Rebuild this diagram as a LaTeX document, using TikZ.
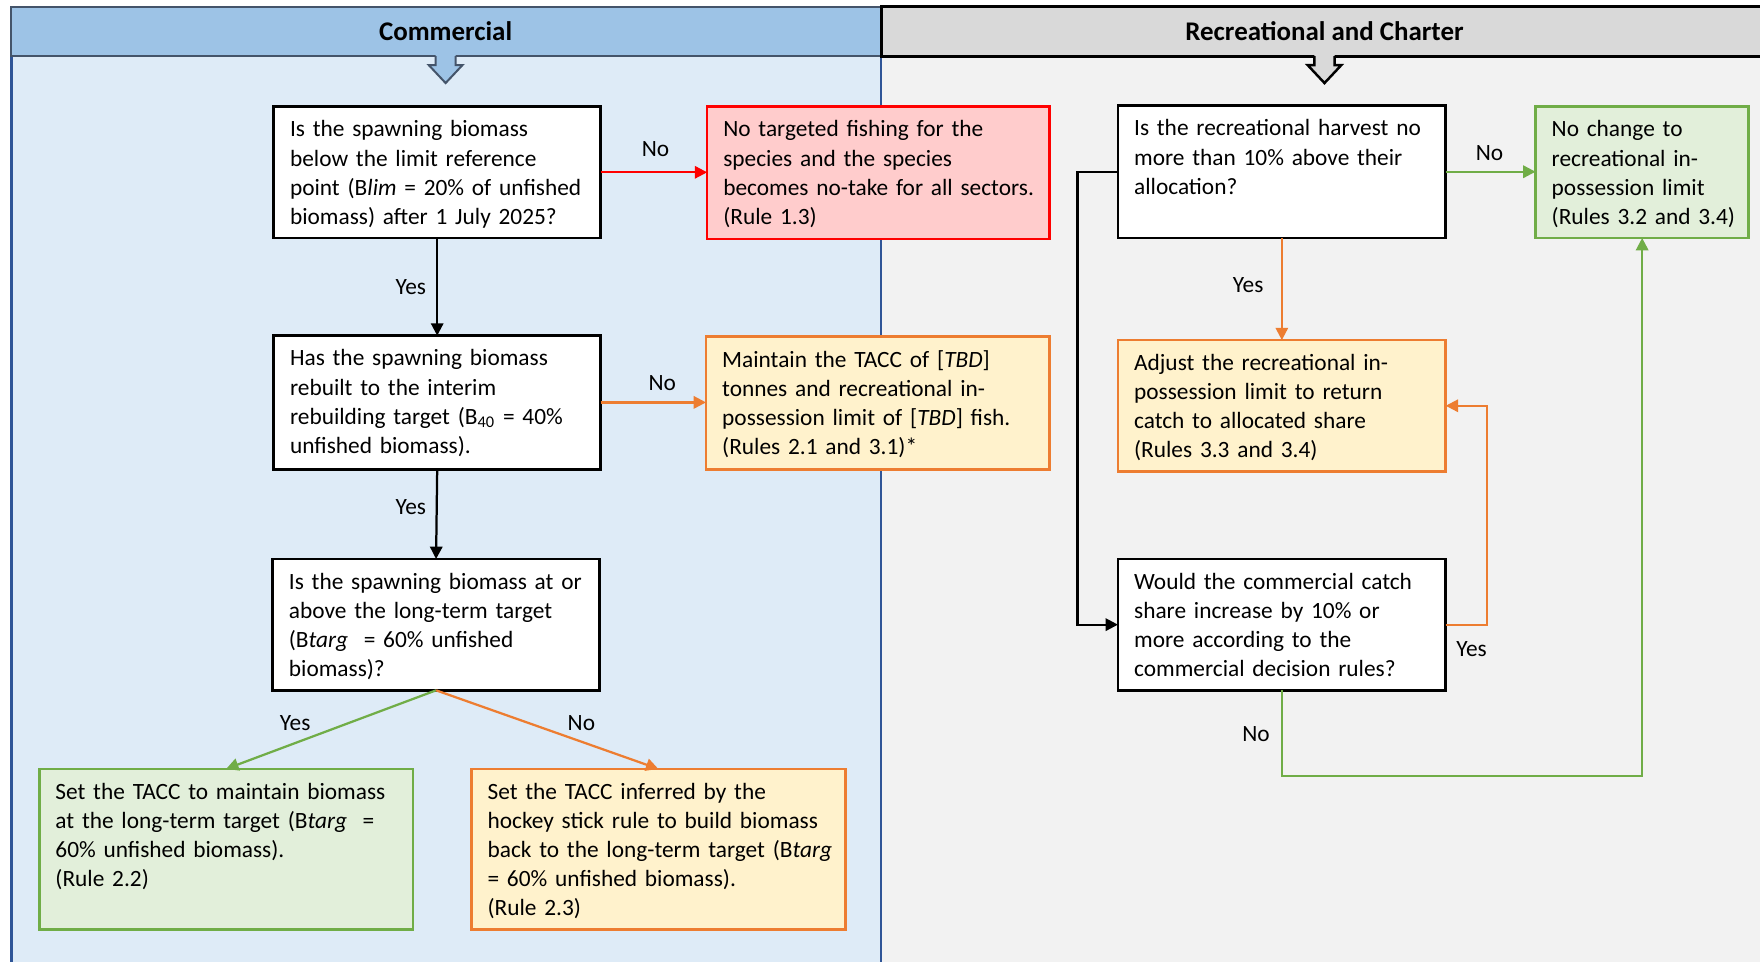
\documentclass[tikz,border=0pt]{standalone}
\usepackage{fontspec}
\setmainfont{Carlito}
\usetikzlibrary{arrows.meta,calc}
\definecolor{hdrblue}{HTML}{9DC3E6}
\definecolor{bodyblue}{HTML}{DEEBF7}
\definecolor{divblue}{HTML}{2F5597}
\definecolor{hdrline}{HTML}{44546A}
\definecolor{hdrgray}{HTML}{D9D9D9}
\definecolor{bodygray}{HTML}{F2F2F2}
\definecolor{redfill}{HTML}{FFCCCC}
\definecolor{redline}{HTML}{FF0000}
\definecolor{orfill}{HTML}{FFF2CC}
\definecolor{orline}{HTML}{ED7D31}
\definecolor{grfill}{HTML}{E2EFDA}
\definecolor{grline}{HTML}{70AD47}
\newcommand{\fbx}[7]{%
  \pgfmathsetmacro{\fcx}{(#3+#5)/2}%
  \pgfmathsetmacro{\fcy}{(#4+#6)/2}%
  \pgfmathsetmacro{\fbw}{(#5-#3)*0.5}%
  \pgfmathsetmacro{\fbh}{(#6-#4)*0.5}%
  \node[#2, minimum width=\fbw pt, minimum height=\fbh pt] (#1) at (\fcx,\fcy) {};
  \node[txt, text width=\fbw pt, anchor=north west] (#1-t) at ([xshift=7pt,yshift=-4.2pt]#1.north west) {\strut #7};
}
\tikzset{
  qbox/.style={draw=black, fill=white, line width=1.3pt, inner sep=0pt, outer sep=0pt},
  rbox/.style={draw=redline, fill=redfill, line width=1.2pt, inner sep=0pt, outer sep=0pt},
  obox/.style={draw=orline, fill=orfill, line width=1.2pt, inner sep=0pt, outer sep=0pt},
  gbox/.style={draw=grline, fill=grfill, line width=1.2pt, inner sep=0pt, outer sep=0pt},
  txt/.style={inner sep=0pt, align=left, font=\fontsize{10.4}{13}\selectfont},
  lbl/.style={inner sep=0pt, font=\fontsize{10.4}{13}\selectfont},
  hdr/.style={inner sep=0pt, font=\bfseries\fontsize{12}{14}\selectfont},
  conn/.style={line width=1pt, -{Triangle[length=5.5pt,width=5.5pt]}},
}
\begin{document}
\begin{tikzpicture}[x=0.5pt,y=-0.5pt]
\useasboundingbox (0,0) rectangle (1568,857);
% panels
\fill[bodyblue] (10,50) rectangle (785,880);
\fill[bodygray] (785,50) rectangle (1580,880);
\draw[divblue, line width=1.2pt] (10,50) -- (10,880);
\draw[divblue, line width=1.2pt] (785,50) -- (785,880);
% headers
\draw[hdrline, fill=hdrblue, line width=1pt] (10,6) rectangle (785,50);
\draw[black, fill=hdrgray, line width=1.3pt] (785,6) rectangle (1580,50);
\node[hdr] (hc) at (397,28) {Commercial};
\node[hdr] (hr) at (1180,28) {Recreational and Charter};
% block arrows
\fill[hdrblue] (388,48) -- (406,48) -- (406,58) -- (412,58) -- (397,74) -- (382,58) -- (388,58) -- cycle;
\draw[hdrline, line width=0.9pt, line join=miter] (388,50) -- (388,58) -- (382,58) -- (397,74) -- (412,58) -- (406,58) -- (406,50);
\fill[hdrgray] (1171,48) -- (1189,48) -- (1189,58) -- (1195,58) -- (1180,74) -- (1165,58) -- (1171,58) -- cycle;
\draw[black, line width=1.1pt, line join=miter] (1171,50) -- (1171,58) -- (1165,58) -- (1180,74) -- (1195,58) -- (1189,58) -- (1189,50);
% boxes
\fbx{q1}{qbox}{244}{95}{535}{212}{Is the spawning biomass\\below the limit reference\\point (B\textit{lim} = 20\% of unfished\\biomass) after 1 July 2025?}
\fbx{r1}{rbox}{630}{95}{935}{213}{No targeted fishing for the\\species and the species\\becomes no-take for all sectors.\\(Rule 1.3)}
\fbx{q2}{qbox}{244}{299}{535}{418}{Has the spawning biomass\\rebuilt to the interim\\rebuilding target (B\textsubscript{40} = 40\%\\unfished biomass).}
\fbx{r2}{obox}{629}{300}{935}{418}{Maintain the TACC of [\textit{TBD}]\\tonnes and recreational in-\\possession limit of [\textit{TBD}] fish.\\(Rules 2.1 and 3.1)*}
\fbx{q3}{qbox}{243}{498}{534}{615}{Is the spawning biomass at or\\above the long-term target\\(B\textit{targ}\ \ = 60\% unfished\\biomass)?}
\fbx{g1}{gbox}{35}{685}{368}{828}{Set the TACC to maintain biomass\\at the long-term target (B\textit{targ}\ \ =\\60\% unfished biomass).\\(Rule 2.2)}
\fbx{o1}{obox}{420}{685}{753}{828}{Set the TACC inferred by the\\hockey stick rule to build biomass\\back to the long-term target (B\textit{targ}\\= 60\% unfished biomass).\\(Rule 2.3)}
\fbx{rq1}{qbox}{996}{94}{1288}{212}{Is the recreational harvest no\\more than 10\% above their\\allocation?}
\fbx{rg}{gbox}{1368}{95}{1558}{212}{No change to\\recreational in-\\possession limit\\(Rules 3.2 and 3.4)}
\fbx{ro}{obox}{996}{303}{1288}{420}{Adjust the recreational in-\\possession limit to return\\catch to allocated share\\(Rules 3.3 and 3.4)}
\fbx{rq2}{qbox}{996}{498}{1288}{615}{Would the commercial catch\\share increase by 10\% or\\more according to the\\commercial decision rules?}
% connectors
\draw[conn, redline] (q1.east) -- (q1.east -| r1.west);
\draw[conn, black] (q1.south) -- (q2.north);
\draw[conn, orline] (q2.east) -- (q2.east -| r2.west);
\draw[conn, black] (q2.south) -- (q3.north);
\draw[conn, grline] (q3.south) -- (g1.north);
\draw[conn, orline] (q3.south) -- (o1.north);
\draw[conn, grline] (rq1.east) -- (rq1.east -| rg.west);
\draw[conn, orline] (rq1.south) -- (ro.north);
\coordinate (lj) at (960,153);
\draw[conn, black] (rq1.west) -- (lj) |- (rq2.west);
\coordinate (rj) at (1325,556.5);
\draw[conn, orline] (rq2.east) -- (rj) |- (ro.east);
\coordinate (bj) at (1142,691);
\draw[conn, grline] (rq2.south) -- (bj) -| (rg.south);
% labels
\node[lbl] (l1) at (584,133) {No};
\node[lbl] (l2) at (366,256) {Yes};
\node[lbl] (l3) at (590,341) {No};
\node[lbl] (l4) at (366,452) {Yes};
\node[lbl] (l5) at (263,644) {Yes};
\node[lbl] (l6) at (518,644) {No};
\node[lbl] (l7) at (1327,136) {No};
\node[lbl] (l8) at (1112,254) {Yes};
\node[lbl] (l9) at (1311,578) {Yes};
\node[lbl] (l10) at (1119,654) {No};
\end{tikzpicture}
\end{document}
